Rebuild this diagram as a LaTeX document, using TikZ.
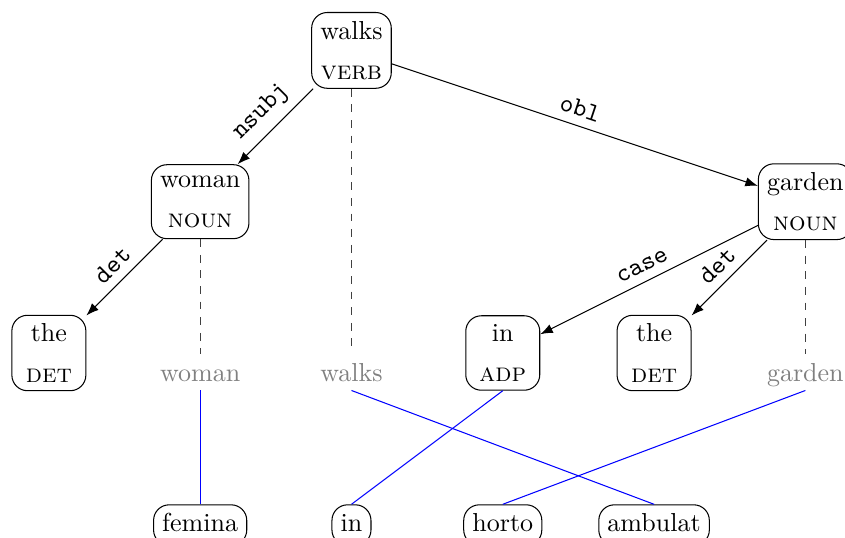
\documentclass[tikz,border=0pt]{standalone}
\usepackage{tikz}
\usetikzlibrary{arrows.meta}

\begin{document}
\begin{tikzpicture}[
        x=2.045cm, y=2.045cm,
        word/.style={draw, rectangle, rounded corners=6pt, minimum width=1cm, minimum height=1cm, align=center},
        surface/.style={text=gray, anchor=base, text height=7pt, text depth=0pt},
        latin/.style={draw, rectangle, rounded corners=6pt, anchor=north, text height=7pt, text depth=2pt},
        arrow/.style={-{Latex}},
        rel/.style={sloped, above, font=\ttfamily},
        link/.style={dashed, black!75},
        alignment/.style={blue}
    ]
    \useasboundingbox (-0.323,0.333) rectangle (5.262,-3.218);

    % Dependency tree
    \node[word] (walks) at (2, 0) {walks\\[3.4pt]\textsc{verb}};
    \node[word] (woman) at (1, -1) {woman\\[3.4pt]\textsc{noun}};
    \node[word] (garden) at (5, -1) {garden\\[3.4pt]\textsc{noun}};
    \node[word] (the1) at (0, -2) {the\\[3.4pt]\textsc{det}};
    \node[word] (in) at (3, -2) {in\\[3.4pt]\textsc{adp}};
    \node[word] (the2) at (4, -2) {the\\[3.4pt]\textsc{det}};

    % Surface words
    \node[surface] (woman-en) at (1, -2.187) {woman};
    \node[surface] (walks-en) at (2, -2.187) {walks};
    \node[surface] (garden-en) at (5, -2.187) {garden};

    % Latin sentence
    \node[latin] (femina) at (1, -3) {femina};
    \node[latin] (in-la) at (2, -3) {in};
    \node[latin] (horto) at (3, -3) {horto};
    \node[latin] (ambulat) at (4, -3) {ambulat};

    % Relations
    \draw[arrow] (walks) -- node[rel] {nsubj} (woman);
    \draw[arrow] (walks) -- node[rel] {obl} (garden);
    \draw[arrow] (woman) -- node[rel] {det} (the1);
    \draw[arrow] (garden) -- node[rel] {case} (in);
    \draw[arrow] (garden) -- node[rel] {det} (the2);

    % Head words down to the surface
    \draw[link] (walks.south) -- (walks-en.north);
    \draw[link] (woman.south) -- (woman-en.north);
    \draw[link] (garden.south) -- (garden-en.north);

    % Word alignment
    \draw[alignment] (woman-en.south) -- (femina.north);
    \draw[alignment] (walks-en.south) -- (ambulat.north);
    \draw[alignment] (in.south) -- (in-la.north);
    \draw[alignment] (garden-en.south) -- (horto.north);
\end{tikzpicture}
\end{document}
